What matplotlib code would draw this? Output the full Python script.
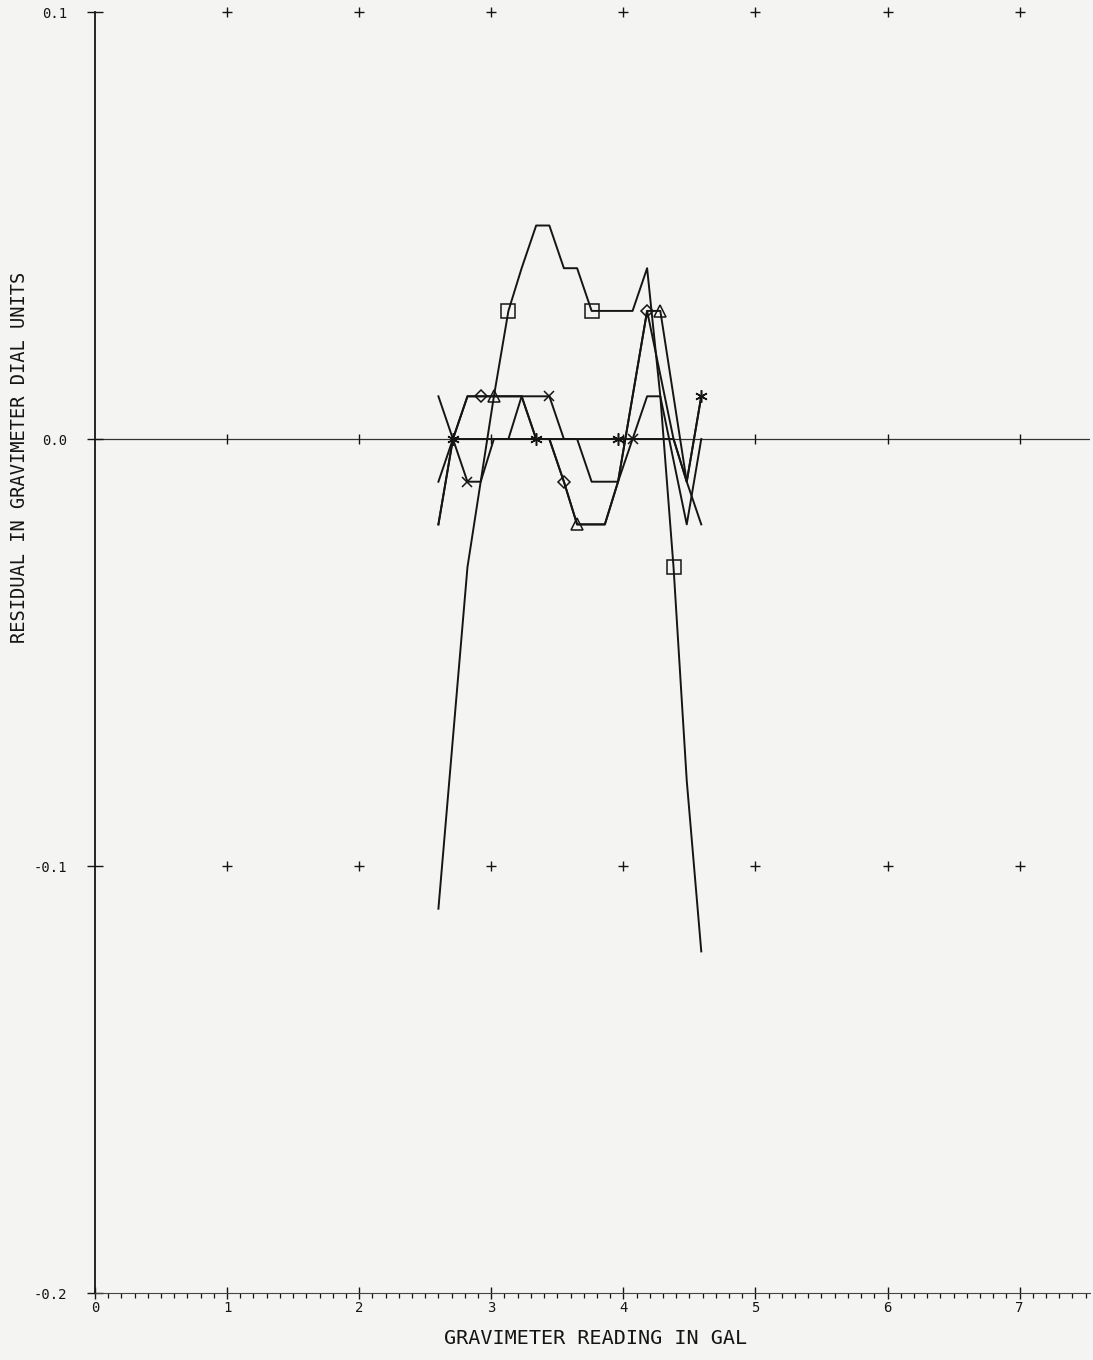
import matplotlib
matplotlib.use("Agg")
import matplotlib.pyplot as plt
from matplotlib.ticker import MultipleLocator

# ---- data ----
reading = [2.60, 2.71, 2.82, 2.92, 3.02, 3.13, 3.23, 3.34, 3.44, 3.55,
           3.65, 3.76, 3.86, 3.96, 4.07, 4.18, 4.28, 4.38, 4.48, 4.59]
res_square = [-0.11, -0.07, -0.03, -0.01, 0.01, 0.03, 0.04, 0.05, 0.05, 0.04,
              0.04, 0.03, 0.03, 0.03, 0.03, 0.04, 0.01, -0.03, -0.08, -0.12]
res_cross = [0.01, 0.0, -0.01, -0.01, 0.0, 0.0, 0.01, 0.01, 0.01, 0.0,
             0.0, -0.01, -0.01, -0.01, 0.0, 0.01, 0.01, -0.005, -0.02, 0.0]
res_diamond = [-0.02, 0.0, 0.01, 0.01, 0.01, 0.01, 0.01, 0.0, 0.0, -0.01,
               -0.02, -0.02, -0.02, -0.01, 0.01, 0.03, 0.015, 0.0, -0.01, 0.01]
res_triangle = [-0.02, 0.0, 0.01, 0.01, 0.01, 0.01, 0.01, 0.0, 0.0, -0.01,
                -0.02, -0.02, -0.02, -0.01, 0.01, 0.03, 0.03, 0.01, -0.01, -0.02]
res_star = [-0.01, 0.0, 0.0, 0.0, 0.0, 0.0, 0.0, 0.0, 0.0, 0.0,
            0.0, 0.0, 0.0, 0.0, 0.0, 0.0, 0.0, 0.0, -0.01, 0.01]

mark_square = [5, 11, 17]
mark_cross = [2, 8, 14]
mark_diamond = [3, 9, 15]
mark_triangle = [4, 10, 16]
mark_star = [1, 7, 13, 19]

x_ticks = [0, 1, 2, 3, 4, 5, 6, 7]
x_ticklabels = ["0", "1", "2", "3", "4", "5", "6", "7"]
y_ticks = [-0.2, -0.1, 0.0, 0.1]
y_ticklabels = ["-0.2", "-0.1", "0.0", "0.1"]
grid_x = [1, 2, 3, 4, 5, 6, 7]
grid_y = [0.1, -0.1]

x_label = "GRAVIMETER READING IN GAL"
y_label = "RESIDUAL IN GRAVIMETER DIAL UNITS"

# ---- figure ----
bg = "#f4f4f2"
ink = "#151515"
font = "DejaVu Sans Mono"

fig = plt.figure(figsize=(10.93, 13.6), dpi=100, facecolor=bg)
ax = fig.add_axes([0.0869, 0.04926, 0.910, 0.94191])
ax.set_facecolor(bg)
ax.set_xlim(0, 7.53)
ax.set_ylim(-0.2, 0.1)

for s in ["top", "right"]:
    ax.spines[s].set_visible(False)
ax.spines["left"].set_color(ink)
ax.spines["left"].set_linewidth(1.3)
ax.spines["bottom"].set_color("#444444")
ax.spines["bottom"].set_linewidth(0.8)

# zero line
ax.axhline(0.0, color="#333333", lw=0.9, zorder=1)

# '+' grid marks
for gy in grid_y:
    ax.plot(grid_x, [gy] * len(grid_x), linestyle="none", marker="+",
            markersize=7, markeredgewidth=1.0, color=ink, clip_on=False, zorder=2)
ax.plot(grid_x, [0.0] * len(grid_x), linestyle="none", marker="|",
        markersize=7, markeredgewidth=1.0, color=ink, zorder=2)

lw = 1.4
common = dict(color=ink, lw=lw, markerfacecolor="none", markeredgecolor=ink,
              markeredgewidth=1.1, zorder=3)
ax.plot(reading, res_square, marker="s", markersize=9.5, markevery=mark_square, **common)
ax.plot(reading, res_cross, marker="x", markersize=7, markevery=mark_cross, **common)
ax.plot(reading, res_diamond, marker="D", markersize=6.5, markevery=mark_diamond, **common)
ax.plot(reading, res_triangle, marker="^", markersize=8, markevery=mark_triangle, **common)
ax.plot(reading, res_star, marker=(6, 2, 0), markersize=9, markevery=mark_star, **common)

# ticks
ax.set_xticks(x_ticks)
ax.set_xticklabels(x_ticklabels, fontfamily=font, fontsize=10, color=ink)
ax.xaxis.set_minor_locator(MultipleLocator(0.1))
ax.tick_params(axis="x", which="major", direction="inout", length=8, width=1.0,
               color=ink, pad=2)
ax.tick_params(axis="x", which="minor", direction="out", length=3.5, width=0.9,
               color=ink)
ax.set_yticks(y_ticks)
ax.set_yticklabels(y_ticklabels, fontfamily=font, fontsize=10, color=ink)
ax.tick_params(axis="y", which="major", direction="inout", length=12, width=1.0,
               color=ink, pad=14)

fig.text(0.545, 0.0090, x_label, fontfamily=font, fontsize=14.5, color=ink,
         ha="center", va="bottom")
fig.text(0.018, 0.664, y_label, fontfamily=font, fontsize=13.5, color=ink,
         ha="center", va="center", rotation=90)

fig.savefig("out.png", dpi=100, facecolor=bg)
